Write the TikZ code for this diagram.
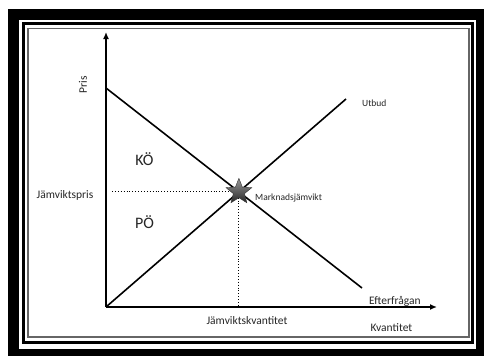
\documentclass[tikz,border=0pt]{standalone}
\usepackage{fontspec}
\setmainfont{Carlito}
\usetikzlibrary{arrows.meta,shapes.geometric,intersections}
\begin{document}
\begin{tikzpicture}[x=1pt,y=-1pt,
  lbl/.style={text=black!85, font=\fontsize{11.5}{13}\selectfont, inner sep=0pt},
  smalllbl/.style={lbl, font=\fontsize{9.5}{11}\selectfont},
  biglbl/.style={lbl, font=\fontsize{16}{18}\selectfont},
  axis/.style={line width=1.4pt, -{Latex[length=7pt,width=6pt]}},
  curve/.style={line width=1.6pt},
  guide/.style={line width=0.9pt, dotted}]
\fill[white] (0,0) rectangle (484,356);
\useasboundingbox (0,0) rectangle (484,356);
% frame
\fill[black] (8,9) rectangle (484,356);
\fill[white] (19,20) rectangle (476,349);
\draw[line width=2.6pt] (23.5,23.5) rectangle (472.5,342.5);
\draw[line width=1.4pt, black!60] (28,28.5) rectangle (469,337);
% geometry
\coordinate (O) at (106,307);
\coordinate (Ytop) at (106,32);
\coordinate (Xend) at (437,307);
\coordinate (D1) at (106,88);
\coordinate (D2) at (362,288);
\coordinate (S2) at (346,99);
\coordinate (Hs) at (112,307);
\path[name path=dem] (D1) -- (D2);
\path[name path=sup] (O) -- (S2);
\path[name intersections={of=dem and sup, by=E}];
\draw[guide] (Hs |- E) -- (E);
\draw[guide] (E) -- (E |- O);
\draw[curve] (D1) -- (D2);
\draw[curve] (O) -- (S2);
\draw[axis] (O) -- (Ytop);
\draw[axis] (O) -- (Xend);
\node[star, star points=5, star point ratio=2.3, minimum size=27pt, inner sep=0pt,
      draw=black!80, top color=black!40, bottom color=black!85] (eq) at (E) {};
% labels
\node[lbl, rotate=90] (pris) at (83,85) {Pris};
\node[smalllbl, anchor=west] (utbud) at (362,103) {Utbud};
\node[biglbl] (ko) at (144.5,159) {KÖ};
\node[biglbl] (po) at (144.5,222) {PÖ};
\node[lbl] (jp) at (65,195) {Jämviktspris};
\node[smalllbl, anchor=west] (mj) at (255,198) {Marknadsjämvikt};
\node[lbl, anchor=west] (ef) at (369,301) {Efterfrågan};
\node[lbl] (jk) at (247,321) {Jämviktskvantitet};
\node[lbl] (kv) at (391.5,328) {Kvantitet};
\end{tikzpicture}
\end{document}
